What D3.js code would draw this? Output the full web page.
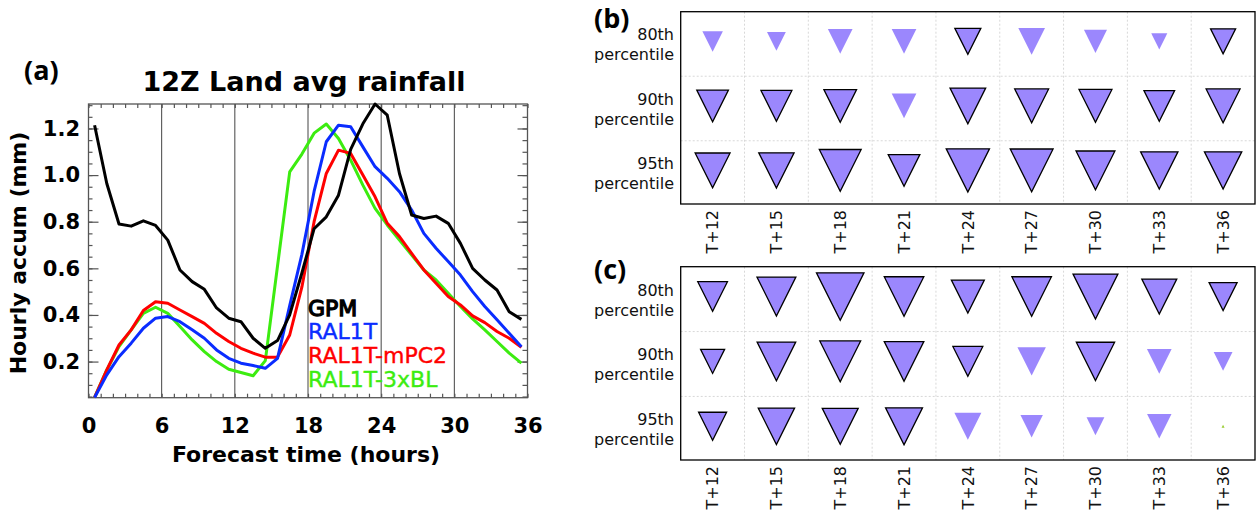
<!DOCTYPE html>
<html><head><meta charset="utf-8">
<script src="https://cdn.jsdelivr.net/npm/d3@7"></script>
<style>body{margin:0;background:#fff}svg{display:block}</style>
</head><body>
<svg id="chart" width="1257" height="511"></svg>
<script>
// ---------- Panel (a) data ----------
const hours = [0.5,1.5,2.5,3.5,4.5,5.5,6.5,7.5,8.5,9.5,10.5,11.5,12.5,13.5,14.5,15.5,16.5,17.5,
               18.5,19.5,20.5,21.5,22.5,23.5,24.5,25.5,26.5,27.5,28.5,29.5,30.5,31.5,32.5,33.5,34.5,35.5];
const gpm   = [1.214,0.964,0.790,0.781,0.804,0.784,0.721,0.593,0.543,0.510,0.430,0.386,0.371,0.300,0.257,0.290,0.400,0.580,
               0.770,0.821,0.914,1.110,1.220,1.305,1.257,1.007,0.829,0.814,0.824,0.793,0.707,0.600,0.550,0.507,0.414,0.381];
const ral1t = [0.046,0.143,0.221,0.279,0.343,0.386,0.393,0.371,0.336,0.300,0.250,0.214,0.193,0.183,0.171,0.214,0.440,0.660,
               0.930,1.143,1.214,1.207,1.121,1.036,0.986,0.929,0.850,0.750,0.686,0.629,0.571,0.500,0.436,0.379,0.321,0.264];
const mpc2  = [0.046,0.164,0.271,0.336,0.419,0.457,0.450,0.421,0.393,0.364,0.321,0.286,0.257,0.236,0.219,0.219,0.314,0.520,
               0.800,1.007,1.107,1.093,1.000,0.907,0.793,0.736,0.664,0.593,0.536,0.479,0.443,0.396,0.367,0.329,0.300,0.261];
const bl3x  = [0.046,0.164,0.264,0.336,0.407,0.433,0.407,0.350,0.293,0.243,0.200,0.167,0.153,0.139,0.204,0.610,1.014,1.090,
               1.180,1.219,1.157,1.064,0.957,0.857,0.786,0.721,0.657,0.593,0.550,0.493,0.436,0.383,0.336,0.286,0.236,0.193];
const seriesNames = ["GPM","RAL1T","RAL1T-mPC2","RAL1T-3xBL"];
const seriesColors = ["#000000","#0a2cff","#ff0000","#3cec10"];
const xMajorTicks = [0,6,12,18,24,30,36];
const yMajorTicks = [0.2,0.4,0.6,0.8,1.0,1.2];

// ---------- Panels (b),(c) data ----------
const leads = ["T+12","T+15","T+18","T+21","T+24","T+27","T+30","T+33","T+36"];
const percentiles = ["80th","90th","95th"];
// signed magnitudes (negative = decrease, drawn as downward triangle)
const b80 = [-18.6,-15.7,-27.1,-27.1,-30.0,-31.6,-23.6,-11.5,-27.8];
const b90 = [-44.4,-42.5,-47.3,-27.1,-56.3,-51.1,-48.1,-41.7,-51.1];
const b95 = [-54.1,-55.3,-77.7,-44.4,-82.9,-81.4,-67.0,-61.7,-61.7];
const bSig80 = [0,0,0,0,1,0,0,0,1];
const bSig90 = [1,1,1,0,1,1,1,1,1];
const bSig95 = [1,1,1,1,1,1,1,1,1];
const c80 = [-39.1,-67.0,-100.0,-69.4,-48.1,-69.4,-89.1,-54.1,-34.8];
const c90 = [-25.6,-66.0,-74.0,-69.4,-39.8,-35.8,-65.0,-27.1,-15.7];
const c95 = [-34.8,-58.5,-57.2,-60.4,-32.3,-22.4,-14.1,-26.5,0.4];
const cSig80 = [1,1,1,1,1,1,1,1,1];
const cSig90 = [1,1,1,1,1,0,1,0,0];
const cSig95 = [1,1,1,1,0,0,0,0,0];

const svg = d3.select("#chart");
svg.append("rect").attr("width",1257).attr("height",511).attr("fill","#fff");

// ================= Panel (a) =================
const A = {l:88.5, r:527.5, t:104, b:397.7};
const x = d3.scaleLinear().domain([0,36]).range([A.l,A.r]);
const y = d3.scaleLinear().domain([0.045,1.305]).range([A.b,A.t]);
const ga = svg.append("g");
const boldFont = "DejaVu Sans";

// vertical reference lines
ga.append("g").selectAll("line").data(xMajorTicks.slice(1,-1)).join("line")
  .attr("x1",d=>x(d)).attr("x2",d=>x(d)).attr("y1",A.t).attr("y2",A.b)
  .attr("stroke","#444").attr("stroke-width",1);

function styleAxis(g){ g.select(".domain").remove(); g.selectAll(".tick line").attr("stroke","#555").attr("stroke-width",1.2); }
const hourTicks = d3.range(0,37);
const yMinor = d3.range(1,27).map(i=>i*0.05);
ga.append("g").attr("transform",`translate(0,${A.b})`).call(d3.axisBottom(x).tickValues(hourTicks).tickSize(-4).tickFormat("")).call(styleAxis);
ga.append("g").attr("transform",`translate(0,${A.t})`).call(d3.axisTop(x).tickValues(hourTicks).tickSize(-4).tickFormat("")).call(styleAxis);
ga.append("g").attr("transform",`translate(${A.l},0)`).call(d3.axisLeft(y).tickValues(yMinor).tickSize(-4).tickFormat("")).call(styleAxis);
ga.append("g").attr("transform",`translate(${A.l},0)`).call(d3.axisLeft(y).tickValues(yMajorTicks).tickSize(-10).tickFormat("")).call(styleAxis);
ga.append("g").attr("transform",`translate(${A.r},0)`).call(d3.axisRight(y).tickValues(yMinor).tickSize(-5).tickFormat("")).call(styleAxis);
ga.append("g").attr("transform",`translate(${A.r},0)`).call(d3.axisRight(y).tickValues(yMajorTicks).tickSize(-10).tickFormat("")).call(styleAxis);

// tick labels
const xl = ga.append("g").attr("transform",`translate(0,${A.b})`)
  .call(d3.axisBottom(x).tickValues(xMajorTicks).tickSize(0).tickPadding(20).tickFormat(d3.format("d")));
xl.select(".domain").remove();
xl.selectAll("text").attr("font-family",boldFont).attr("font-weight","bold").attr("font-size",21).attr("fill","#000");
const yl = ga.append("g").attr("transform",`translate(${A.l},0)`)
  .call(d3.axisLeft(y).tickValues(yMajorTicks).tickSize(0).tickPadding(8.5).tickFormat(d3.format(".1f")));
yl.select(".domain").remove();
yl.selectAll("text").attr("font-family",boldFont).attr("font-weight","bold").attr("font-size",21).attr("fill","#000");

// frame
ga.append("rect").attr("x",A.l).attr("y",A.t).attr("width",A.r-A.l).attr("height",A.b-A.t)
  .attr("fill","none").attr("stroke","#555").attr("stroke-width",1.3);

// lines
const allSeries = [gpm, ral1t, mpc2, bl3x];
const line = d3.line().x((d,i)=>x(hours[i])).y(d=>y(d));
[3,2,1,0].forEach(k=>{
  ga.append("path").datum(allSeries[k]).attr("d",line).attr("fill","none")
    .attr("stroke",seriesColors[k]).attr("stroke-width",3).attr("stroke-linejoin","round");
});

// legend
const legBase = [316,338.5,362.7,387];
seriesNames.forEach((n,i)=>{
  ga.append("text").attr("x",308).attr("y",legBase[i]).text(n)
    .attr("font-family",boldFont).attr("font-size",22).attr("fill",seriesColors[i])
    .attr("stroke",seriesColors[i]).attr("stroke-width",i===0?1.3:0.4);
});

// titles
ga.append("text").attr("x",304).attr("y",91).attr("text-anchor","middle").text("12Z Land avg rainfall")
  .attr("font-family",boldFont).attr("font-weight","bold").attr("font-size",27);
ga.append("text").attr("x",306).attr("y",461.5).attr("text-anchor","middle").text("Forecast time (hours)")
  .attr("font-family",boldFont).attr("font-weight","bold").attr("font-size",22);
ga.append("text").attr("transform","translate(26,253) rotate(-90)").attr("text-anchor","middle").text("Hourly accum (mm)")
  .attr("font-family",boldFont).attr("font-weight","bold").attr("font-size",22);

// panel labels
function panelLabel(t,px,py){
  svg.append("text").attr("x",px).attr("y",py).text(t)
    .attr("font-family","Open Sans").attr("font-weight","bold").attr("font-size",27);
}
panelLabel("(a)",24,80);
panelLabel("(b)",594,28);
panelLabel("(c)",594,279);

// ================= Panels (b) & (c) =================
const P = {l:680.7, r:1255};
const xb = d3.scaleBand().domain(leads).range([P.l,P.r]).padding(0);
const sizeScale = d3.scaleSqrt().domain([0,100]).range([0,47.5]);
const fillNeg = "#9b87fd", fillPos = "#9acd32";

function trianglePath(cx,cy,s,up){
  const h = s/2;
  return up ? `M${cx-h},${cy+h}L${cx+h},${cy+h}L${cx},${cy-h}Z`
            : `M${cx-h},${cy-h}L${cx+h},${cy-h}L${cx},${cy+h}Z`;
}

function drawPanel(top,bottom,vals,sigs){
  const g = svg.append("g");
  const yr = d3.scaleLinear().domain([-0.46,2.52]).range([top,bottom]);
  // grid
  g.append("g").selectAll("line").data(leads.slice(1)).join("line")
    .attr("x1",d=>xb(d)).attr("x2",d=>xb(d)).attr("y1",top).attr("y2",bottom)
    .attr("stroke","#d8d8d8").attr("stroke-width",1).attr("stroke-dasharray","2,2");
  g.append("g").selectAll("line").data([0.54,1.54]).join("line")
    .attr("x1",P.l).attr("x2",P.r).attr("y1",d=>yr(d)).attr("y2",d=>yr(d))
    .attr("stroke","#d8d8d8").attr("stroke-width",1).attr("stroke-dasharray","2,2");
  // markers
  vals.forEach((row,ri)=>{
    const cells = row.map((v,ci)=>({v, sig:sigs[ri][ci], lead:leads[ci]}));
    g.append("g").selectAll("path").data(cells).join("path")
      .attr("d",d=>trianglePath(xb(d.lead)+xb.bandwidth()/2, yr(ri), sizeScale(Math.abs(d.v)), d.v>0))
      .attr("fill",d=>d.v>0?fillPos:fillNeg)
      .attr("stroke",d=>d.sig?"#000":"none").attr("stroke-width",1.3).attr("stroke-linejoin","miter");
  });
  // frame
  g.append("rect").attr("x",P.l).attr("y",top).attr("width",P.r-P.l).attr("height",bottom-top)
    .attr("fill","none").attr("stroke","#000").attr("stroke-width",1.3);
  // row labels
  percentiles.forEach((p,ri)=>{
    const t = g.append("text").attr("text-anchor","end").attr("font-family","DejaVu Sans").attr("font-size",16).attr("fill","#111");
    t.append("tspan").attr("x",674).attr("y",yr(ri)-1).text(p);
    t.append("tspan").attr("x",674).attr("y",yr(ri)+19).text("percentile");
  });
  // column labels
  g.append("g").selectAll("text").data(leads).join("text")
    .attr("transform",d=>`translate(${xb(d)+xb.bandwidth()/2},${bottom+6}) rotate(-90)`)
    .attr("text-anchor","end").attr("dy","0.36em")
    .attr("font-family","DejaVu Sans").attr("font-size",16).attr("fill","#111").text(d=>d);
}
drawPanel(11.7,204,[b80,b90,b95],[bSig80,bSig90,bSig95]);
drawPanel(266.7,460,[c80,c90,c95],[cSig80,cSig90,cSig95]);
</script>
</body></html>
